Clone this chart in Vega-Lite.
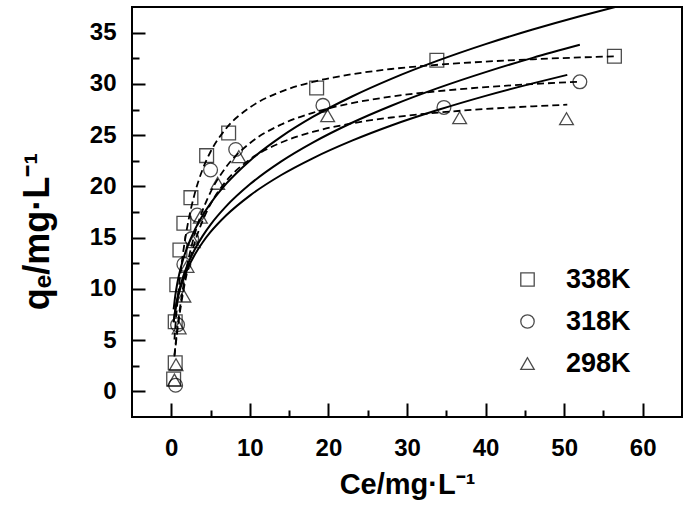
{
  "$schema": "https://vega.github.io/schema/vega-lite/v6.json",
  "width": 550,
  "height": 410,
  "autosize": {"type": "none"},
  "padding": {"left": 132, "top": 7, "right": 8, "bottom": 93},
  "background": "white",
  "config": {
    "view": {"stroke": "black", "strokeWidth": 2},
    "font": "Liberation Sans"
  },
  "datasets": {
    "pts": [
      {"series": "338K", "ce": 0.3, "qe": 1.2},
      {"series": "338K", "ce": 0.5, "qe": 2.8},
      {"series": "338K", "ce": 0.5, "qe": 6.8},
      {"series": "338K", "ce": 0.7, "qe": 10.4},
      {"series": "338K", "ce": 1.1, "qe": 13.8},
      {"series": "338K", "ce": 1.6, "qe": 16.4},
      {"series": "338K", "ce": 2.5, "qe": 18.9},
      {"series": "338K", "ce": 4.5, "qe": 23.0},
      {"series": "338K", "ce": 7.3, "qe": 25.2},
      {"series": "338K", "ce": 18.5, "qe": 29.6},
      {"series": "338K", "ce": 33.8, "qe": 32.3},
      {"series": "338K", "ce": 56.4, "qe": 32.7},
      {"series": "318K", "ce": 0.55, "qe": 0.6},
      {"series": "318K", "ce": 0.8, "qe": 6.5},
      {"series": "318K", "ce": 1.6, "qe": 12.4},
      {"series": "318K", "ce": 2.6, "qe": 14.9},
      {"series": "318K", "ce": 3.3, "qe": 17.2},
      {"series": "318K", "ce": 5.0, "qe": 21.6},
      {"series": "318K", "ce": 8.2, "qe": 23.6},
      {"series": "318K", "ce": 19.3, "qe": 27.9},
      {"series": "318K", "ce": 34.7, "qe": 27.7},
      {"series": "318K", "ce": 52.0, "qe": 30.2},
      {"series": "298K", "ce": 0.4, "qe": 1.1},
      {"series": "298K", "ce": 0.6, "qe": 2.6},
      {"series": "298K", "ce": 1.0, "qe": 6.2},
      {"series": "298K", "ce": 1.6, "qe": 9.3},
      {"series": "298K", "ce": 2.0, "qe": 12.2},
      {"series": "298K", "ce": 2.8, "qe": 14.6},
      {"series": "298K", "ce": 3.7, "qe": 17.0},
      {"series": "298K", "ce": 5.9, "qe": 20.3},
      {"series": "298K", "ce": 8.6, "qe": 22.9},
      {"series": "298K", "ce": 19.9, "qe": 26.9},
      {"series": "298K", "ce": 36.7, "qe": 26.7},
      {"series": "298K", "ce": 50.3, "qe": 26.6}
    ],
    "fr": [
      {"series": "338K", "ce": 0.3, "qe": 8.00},
      {"series": "338K", "ce": 0.5, "qe": 9.30},
      {"series": "338K", "ce": 0.75, "qe": 10.48},
      {"series": "338K", "ce": 1, "qe": 11.41},
      {"series": "338K", "ce": 1.5, "qe": 12.86},
      {"series": "338K", "ce": 2, "qe": 14.00},
      {"series": "338K", "ce": 3, "qe": 15.78},
      {"series": "338K", "ce": 4, "qe": 17.18},
      {"series": "338K", "ce": 5, "qe": 18.34},
      {"series": "338K", "ce": 7, "qe": 20.26},
      {"series": "338K", "ce": 10, "qe": 22.51},
      {"series": "338K", "ce": 14, "qe": 24.85},
      {"series": "338K", "ce": 18, "qe": 26.77},
      {"series": "338K", "ce": 23, "qe": 28.77},
      {"series": "338K", "ce": 28, "qe": 30.49},
      {"series": "338K", "ce": 34, "qe": 32.29},
      {"series": "338K", "ce": 40, "qe": 33.88},
      {"series": "338K", "ce": 46, "qe": 35.30},
      {"series": "338K", "ce": 52, "qe": 36.60},
      {"series": "338K", "ce": 56.5, "qe": 37.50},
      {"series": "318K", "ce": 0.3, "qe": 6.76},
      {"series": "318K", "ce": 0.5, "qe": 7.92},
      {"series": "318K", "ce": 0.75, "qe": 8.99},
      {"series": "318K", "ce": 1, "qe": 9.84},
      {"series": "318K", "ce": 1.5, "qe": 11.17},
      {"series": "318K", "ce": 2, "qe": 12.22},
      {"series": "318K", "ce": 3, "qe": 13.87},
      {"series": "318K", "ce": 4, "qe": 15.17},
      {"series": "318K", "ce": 5, "qe": 16.27},
      {"series": "318K", "ce": 7, "qe": 18.07},
      {"series": "318K", "ce": 10, "qe": 20.20},
      {"series": "318K", "ce": 14, "qe": 22.44},
      {"series": "318K", "ce": 18, "qe": 24.27},
      {"series": "318K", "ce": 23, "qe": 26.21},
      {"series": "318K", "ce": 28, "qe": 27.87},
      {"series": "318K", "ce": 34, "qe": 29.61},
      {"series": "318K", "ce": 40, "qe": 31.15},
      {"series": "318K", "ce": 46, "qe": 32.54},
      {"series": "318K", "ce": 52, "qe": 33.81},
      {"series": "298K", "ce": 0.3, "qe": 6.74},
      {"series": "298K", "ce": 0.5, "qe": 7.85},
      {"series": "298K", "ce": 0.75, "qe": 8.85},
      {"series": "298K", "ce": 1, "qe": 9.64},
      {"series": "298K", "ce": 1.5, "qe": 10.87},
      {"series": "298K", "ce": 2, "qe": 11.84},
      {"series": "298K", "ce": 3, "qe": 13.36},
      {"series": "298K", "ce": 4, "qe": 14.55},
      {"series": "298K", "ce": 5, "qe": 15.55},
      {"series": "298K", "ce": 7, "qe": 17.18},
      {"series": "298K", "ce": 10, "qe": 19.10},
      {"series": "298K", "ce": 14, "qe": 21.11},
      {"series": "298K", "ce": 18, "qe": 22.74},
      {"series": "298K", "ce": 23, "qe": 24.46},
      {"series": "298K", "ce": 28, "qe": 25.94},
      {"series": "298K", "ce": 34, "qe": 27.47},
      {"series": "298K", "ce": 40, "qe": 28.83},
      {"series": "298K", "ce": 46, "qe": 30.05},
      {"series": "298K", "ce": 50.4, "qe": 30.88}
    ],
    "la": [
      {"series": "338K", "ce": 0.4, "qe": 5.06},
      {"series": "338K", "ce": 0.5, "qe": 6.13},
      {"series": "338K", "ce": 0.75, "qe": 8.44},
      {"series": "338K", "ce": 1, "qe": 10.39},
      {"series": "338K", "ce": 1.5, "qe": 13.52},
      {"series": "338K", "ce": 2, "qe": 15.91},
      {"series": "338K", "ce": 3, "qe": 19.34},
      {"series": "338K", "ce": 4, "qe": 21.68},
      {"series": "338K", "ce": 5, "qe": 23.38},
      {"series": "338K", "ce": 7, "qe": 25.67},
      {"series": "338K", "ce": 10, "qe": 27.70},
      {"series": "338K", "ce": 14, "qe": 29.25},
      {"series": "338K", "ce": 18, "qe": 30.19},
      {"series": "338K", "ce": 23, "qe": 30.94},
      {"series": "338K", "ce": 28, "qe": 31.45},
      {"series": "338K", "ce": 34, "qe": 31.87},
      {"series": "338K", "ce": 40, "qe": 32.17},
      {"series": "338K", "ce": 46, "qe": 32.40},
      {"series": "338K", "ce": 52, "qe": 32.58},
      {"series": "338K", "ce": 56.5, "qe": 32.69},
      {"series": "318K", "ce": 0.4, "qe": 3.53},
      {"series": "318K", "ce": 0.5, "qe": 4.27},
      {"series": "318K", "ce": 0.75, "qe": 6.01},
      {"series": "318K", "ce": 1, "qe": 7.54},
      {"series": "318K", "ce": 1.5, "qe": 10.12},
      {"series": "318K", "ce": 2, "qe": 12.21},
      {"series": "318K", "ce": 3, "qe": 15.39},
      {"series": "318K", "ce": 4, "qe": 17.69},
      {"series": "318K", "ce": 5, "qe": 19.44},
      {"series": "318K", "ce": 7, "qe": 21.91},
      {"series": "318K", "ce": 10, "qe": 24.21},
      {"series": "318K", "ce": 14, "qe": 26.04},
      {"series": "318K", "ce": 18, "qe": 27.18},
      {"series": "318K", "ce": 23, "qe": 28.12},
      {"series": "318K", "ce": 28, "qe": 28.76},
      {"series": "318K", "ce": 34, "qe": 29.29},
      {"series": "318K", "ce": 40, "qe": 29.68},
      {"series": "318K", "ce": 46, "qe": 29.98},
      {"series": "318K", "ce": 52, "qe": 30.21},
      {"series": "298K", "ce": 0.4, "qe": 3.4},
      {"series": "298K", "ce": 0.5, "qe": 4.10},
      {"series": "298K", "ce": 0.75, "qe": 5.75},
      {"series": "298K", "ce": 1, "qe": 7.20},
      {"series": "298K", "ce": 1.5, "qe": 9.63},
      {"series": "298K", "ce": 2, "qe": 11.59},
      {"series": "298K", "ce": 3, "qe": 14.55},
      {"series": "298K", "ce": 4, "qe": 16.67},
      {"series": "298K", "ce": 5, "qe": 18.28},
      {"series": "298K", "ce": 7, "qe": 20.53},
      {"series": "298K", "ce": 10, "qe": 22.63},
      {"series": "298K", "ce": 14, "qe": 24.28},
      {"series": "298K", "ce": 18, "qe": 25.31},
      {"series": "298K", "ce": 23, "qe": 26.15},
      {"series": "298K", "ce": 28, "qe": 26.72},
      {"series": "298K", "ce": 34, "qe": 27.20},
      {"series": "298K", "ce": 40, "qe": 27.55},
      {"series": "298K", "ce": 46, "qe": 27.81},
      {"series": "298K", "ce": 50.4, "qe": 27.97}
    ]
  },
  "layer": [
    {
      "data": {"name": "fr"},
      "mark": {"type": "line", "color": "black", "strokeWidth": 2, "clip": true, "interpolate": "monotone"},
      "encoding": {
        "x": {
          "field": "ce", "type": "quantitative",
          "scale": {"domain": [-5, 65], "nice": false, "zero": false},
          "axis": {
            "orient": "bottom", "values": [0, 10, 20, 30, 40, 50, 60],
            "tickSize": -14, "tickWidth": 2, "tickColor": "black",
            "domain": false, "grid": false,
            "labelFont": "Liberation Sans", "labelFontWeight": "bold", "labelFontSize": 24, "labelColor": "black",
            "labelPadding": 33,
            "title": "Ce/mg·L⁻¹", "titleFont": "Liberation Sans", "titleFontWeight": "bold", "titleFontSize": 29, "titleColor": "black",
            "titleX": 275, "titleY": 67, "titleBaseline": "middle", "titleAlign": "center"
          }
        },
        "y": {
          "field": "qe", "type": "quantitative",
          "scale": {"domain": [-2.5, 37.5], "nice": false, "zero": false},
          "axis": {
            "orient": "left", "values": [0, 5, 10, 15, 20, 25, 30, 35],
            "tickSize": -13, "tickWidth": 2, "tickColor": "black",
            "domain": false, "grid": false,
            "labelFont": "Liberation Sans", "labelFontWeight": "bold", "labelFontSize": 24, "labelColor": "black",
            "labelPadding": 29,
            "title": "qₑ/mg·L⁻¹", "titleFont": "Liberation Sans", "titleFontWeight": "bold", "titleFontSize": 36, "titleColor": "black",
            "titleX": -95, "titleY": 224, "titleBaseline": "middle", "titleAlign": "center", "titleAngle": -90
          }
        },
        "detail": {"field": "series", "type": "nominal"}
      }
    },
    {
      "data": {"name": "la"},
      "mark": {"type": "line", "color": "black", "strokeWidth": 1.8, "strokeDash": [7, 4], "clip": true, "interpolate": "monotone"},
      "encoding": {
        "x": {
          "field": "ce", "type": "quantitative",
          "scale": {"domain": [-5, 65], "nice": false, "zero": false},
          "axis": {
            "orient": "bottom", "values": [5, 15, 25, 35, 45, 55],
            "tickSize": -7, "tickWidth": 2, "tickColor": "black",
            "domain": false, "grid": false, "labels": false, "title": null
          }
        },
        "y": {
          "field": "qe", "type": "quantitative",
          "scale": {"domain": [-2.5, 37.5], "nice": false, "zero": false},
          "axis": {
            "orient": "left", "values": [2.5, 7.5, 12.5, 17.5, 22.5, 27.5, 32.5],
            "tickSize": -7, "tickWidth": 2, "tickColor": "black",
            "domain": false, "grid": false, "labels": false, "title": null
          }
        },
        "detail": {"field": "series", "type": "nominal"}
      }
    },
    {
      "data": {"name": "pts"},
      "mark": {"type": "point", "filled": false, "color": "black", "strokeWidth": 1.3, "size": 190},
      "encoding": {
        "x": {"field": "ce", "type": "quantitative", "scale": {"domain": [-5, 65], "nice": false, "zero": false}, "axis": null},
        "y": {"field": "qe", "type": "quantitative", "scale": {"domain": [-2.5, 37.5], "nice": false, "zero": false}, "axis": null},
        "shape": {
          "field": "series", "type": "nominal",
          "scale": {"domain": ["338K", "318K", "298K"], "range": ["square", "circle", "triangle-up"]},
          "legend": {
            "orient": "none", "legendX": 382, "legendY": 259, "title": null, "padding": 0,
            "labelFont": "Liberation Sans", "labelFontWeight": "bold", "labelFontSize": 27, "labelColor": "black",
            "symbolStrokeColor": "black", "symbolStrokeWidth": 1.3, "symbolSize": 180, "symbolFillColor": "white",
            "labelOffset": 25, "rowPadding": 14
          }
        }
      }
    }
  ],
  "resolve": {"axis": {"x": "independent", "y": "independent"}}
}
